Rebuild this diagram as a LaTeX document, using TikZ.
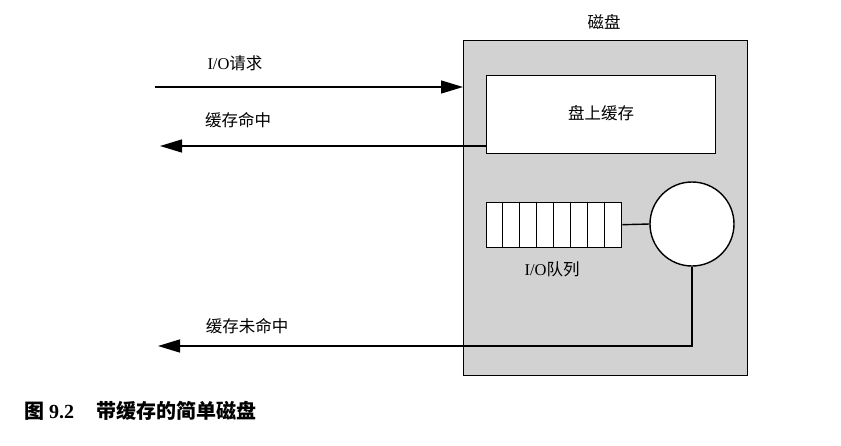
\documentclass[tikz,border=0pt]{standalone}
\usepackage{fontspec}
\setmainfont{Liberation Serif}
\newfontfamily\cjk{Noto Sans CJK SC}
\usetikzlibrary{arrows.meta,calc}
\definecolor{diskgray}{RGB}{210,210,210}
\tikzset{
  lbl/.style={font=\fontsize{16.5}{19}\selectfont, inner sep=0pt},
  box/.style={draw, line width=1.4pt, inner sep=0pt},
  conn/.style={line width=1.4pt},
  arr/.style={conn, -{Triangle[length=22pt,width=13pt]}},
}
\begin{document}
\begin{tikzpicture}[x=1pt,y=1pt]
\useasboundingbox (0,0) rectangle (841,-445);
% disk
\node[box, fill=diskgray, minimum width=284pt, minimum height=335pt, anchor=north west] (disk) at (463,-40) {};
\node[lbl] (disktitle) at (604,-22) {\cjk 磁盘};
% cache
\node[box, fill=white, minimum width=229pt, minimum height=78pt, anchor=north west] (cache) at (486,-75) {};
\node[lbl] (cachetxt) at (601,-113) {\cjk 盘上缓存};
% queue
\node[box, fill=white, minimum width=135pt, minimum height=45pt, anchor=north west] (queue) at (486,-201.5) {};
\foreach \i in {1,...,7} {
  \draw[line width=1pt] ($(queue.north west)+(\i*16.875,0)$) -- ($(queue.south west)+(\i*16.875,0)$);
}
\node[lbl] (queuetxt) at (552,-269) {I/O{\cjk 队列}};
% server
\node[box, circle, fill=white, minimum size=84pt] (server) at (692,-224) {};
\draw[conn] (queue.east) -- (server.west);
% arrows
\coordinate (reqstart) at (155,-87);
\coordinate (reqend) at (disk.west |- reqstart);
\draw[arr] (reqstart) -- (reqend);
\node[lbl] (reqtxt) at (235,-63) {I/O{\cjk 请求}};
\coordinate (hitstart) at (486,-146);
\coordinate (hitend) at (160,-146);
\draw[arr] (hitstart) -- (hitend);
\node[lbl] (hittxt) at (238,-120) {\cjk 缓存命中};
\coordinate (misscorner) at (server.south |- 0,-346);
\coordinate (missend) at (158,-346);
\draw[arr] (server.south) -- (misscorner) -- (missend);
\node[lbl] (misstxt) at (247,-326) {\cjk 缓存未命中};
% caption
\node[font=\fontsize{20}{23}\selectfont\bfseries, inner sep=0pt, anchor=west] (caption) at (24,-411) {{\cjk 图}\hspace{5pt}9.2\hspace{22pt}{\cjk 带缓存的简单磁盘}};
\end{tikzpicture}
\end{document}
